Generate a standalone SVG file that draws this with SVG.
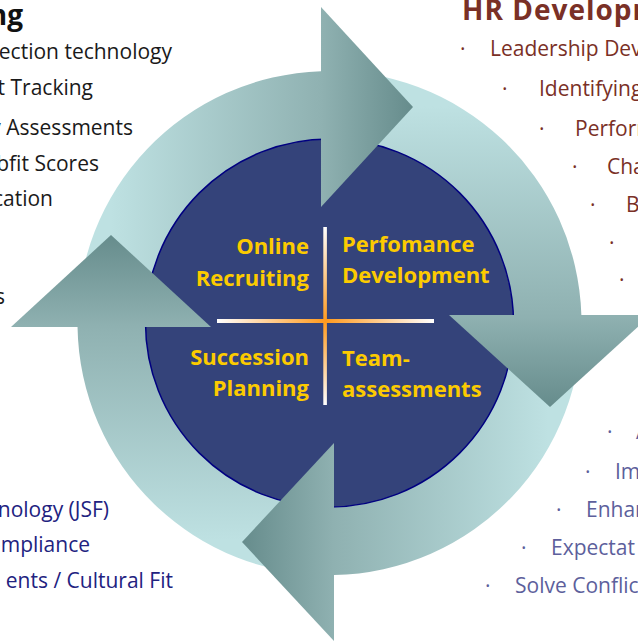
<svg xmlns="http://www.w3.org/2000/svg" width="638" height="641" viewBox="0 0 638 641">
  <style>
    .quad { font-family: "Open Sans", "Liberation Sans", sans-serif; font-weight: bold; font-size: 22px; fill: #fccb00; }
    .end { text-anchor: end; }
    .lt { font-family: "Open Sans", "Liberation Sans", sans-serif; font-size: 21px; fill: #1a1a1a; text-anchor: end; }
    .ln { font-family: "Open Sans", "Liberation Sans", sans-serif; font-size: 21px; fill: #22227f; text-anchor: end; }
    .rb { font-family: "Open Sans", "Liberation Sans", sans-serif; font-size: 21px; fill: #7a3026; }
    .rs { font-family: "Open Sans", "Liberation Sans", sans-serif; font-size: 21px; fill: #5d5f9c; }
    .hd { font-family: "Open Sans", "Liberation Sans", sans-serif; font-weight: bold; font-size: 28px; }
  </style>
  <defs>
    <linearGradient id="gTop" gradientUnits="userSpaceOnUse" x1="111" y1="0" x2="413" y2="0">
      <stop offset="0" stop-color="#bee1e2"/>
      <stop offset="0.7" stop-color="#8fb1b1"/>
      <stop offset="1" stop-color="#668c8c"/>
    </linearGradient>
    <linearGradient id="gRight" gradientUnits="userSpaceOnUse" x1="0" y1="106" x2="0" y2="407">
      <stop offset="0" stop-color="#bee1e2"/>
      <stop offset="0.7" stop-color="#8fb1b1"/>
      <stop offset="1" stop-color="#668c8c"/>
    </linearGradient>
    <linearGradient id="gBottom" gradientUnits="userSpaceOnUse" x1="548" y1="0" x2="242" y2="0">
      <stop offset="0" stop-color="#bee1e2"/>
      <stop offset="0.7" stop-color="#8fb1b1"/>
      <stop offset="1" stop-color="#668c8c"/>
    </linearGradient>
    <linearGradient id="gLeft" gradientUnits="userSpaceOnUse" x1="0" y1="540" x2="0" y2="235">
      <stop offset="0" stop-color="#bee1e2"/>
      <stop offset="0.7" stop-color="#8fb1b1"/>
      <stop offset="1" stop-color="#668c8c"/>
    </linearGradient>
    <linearGradient id="gVert" gradientUnits="userSpaceOnUse" x1="0" y1="227" x2="0" y2="405">
      <stop offset="0" stop-color="#ffffff"/>
      <stop offset="0.53" stop-color="#ff9a1e"/>
      <stop offset="1" stop-color="#ffffff"/>
    </linearGradient>
    <linearGradient id="gHorz" gradientUnits="userSpaceOnUse" x1="217" y1="0" x2="434" y2="0">
      <stop offset="0" stop-color="#ffffff"/>
      <stop offset="0.5" stop-color="#ff9a1e"/>
      <stop offset="1" stop-color="#ffffff"/>
    </linearGradient>
  </defs>

  <g id="connectors">
    <path id="body-top" fill="url(#gTop)" d="M 77.53,327 A 252 252 0 0 1 321,71.14 L 321,139.2 A 184 184 0 0 0 145.54,327 Z"/>
    <path id="body-right" fill="url(#gRight)" d="M 321,71.14 A 252 252 0 0 1 581.37,315 L 513.33,315 A 184 184 0 0 0 321,139.2 Z"/>
    <path id="body-bottom" fill="url(#gBottom)" d="M 581.37,315 A 252 252 0 0 1 334,574.96 L 334,506.94 A 184 184 0 0 0 513.33,315 Z"/>
    <path id="body-left" fill="url(#gLeft)" d="M 334,574.96 A 252 252 0 0 1 77.53,327 L 145.54,327 A 184 184 0 0 0 334,506.94 Z"/>
  </g>

  <g id="hub">
    <circle cx="329.5" cy="323" r="184" fill="#34437a" stroke="#000080" stroke-width="1.5"/>
  </g>

  <g id="arrowheads">
    <polygon fill="url(#gTop)" points="321,7 413,107 321,207"/>
    <polygon fill="url(#gRight)" points="449,315 651,315 550,407"/>
    <polygon fill="url(#gBottom)" points="334,443 242,542 334,641"/>
    <polygon fill="url(#gLeft)" points="11,327 211,327 111,235"/>
  </g>

  <g id="cross">
    <rect x="323.3" y="227" width="3.6" height="178" fill="url(#gVert)"/>
    <rect x="217" y="319" width="217" height="4" fill="url(#gHorz)"/>
  </g>

  <g id="online-recruiting">
    <text class="quad end" x="309" y="254">Online</text>
    <text class="quad end" x="309" y="286">Recruiting</text>
  </g>
  <g id="performance-development">
    <text class="quad" x="342" y="252">Perfomance</text>
    <text class="quad" x="342" y="283">Development</text>
  </g>
  <g id="succession-planning">
    <text class="quad end" x="309" y="365">Succession</text>
    <text class="quad end" x="309" y="396">Planning</text>
  </g>
  <g id="team-assessments">
    <text class="quad" x="342" y="366">Team-</text>
    <text class="quad" x="342" y="397">assessments</text>
  </g>

  <g id="left-list">
    <text class="hd" x="23" y="25" text-anchor="end" fill="#111111">ng</text>
    <text class="lt" x="172" y="59">ection technology</text>
    <text class="lt" x="93" y="95">t Tracking</text>
    <text class="lt" x="133" y="135">y Assessments</text>
    <text class="lt" x="99" y="171">bfit Scores</text>
    <text class="lt" x="53" y="206">cation</text>
    <text class="lt" x="5" y="304">s</text>
    <text class="ln" x="109" y="517">nology (JSF)</text>
    <text class="ln" x="90" y="552">ompliance</text>
    <text class="ln" x="173" y="588">ents / Cultural Fit</text>
  </g>

  <g id="right-list">
    <text class="hd" x="462" y="20" fill="#7a3026" letter-spacing="1">HR Developm</text>
    <text class="rb" x="460" y="56">·</text>
    <text class="rb" x="490" y="56">Leadership Dev</text>
    <text class="rb" x="502" y="96">·</text>
    <text class="rb" x="539" y="96">Identifying</text>
    <text class="rb" x="539" y="136">·</text>
    <text class="rb" x="575" y="136">Perform</text>
    <text class="rb" x="572" y="174">·</text>
    <text class="rb" x="607" y="174">Cha</text>
    <text class="rb" x="590" y="212">·</text>
    <text class="rb" x="626" y="212">B</text>
    <text class="rb" x="609" y="250">·</text>
    <text class="rb" x="619" y="287">·</text>
    <text class="rs" x="607" y="439">·</text>
    <text class="rs" x="636" y="439">A</text>
    <text class="rs" x="585" y="479">·</text>
    <text class="rs" x="615" y="479">Im</text>
    <text class="rs" x="556" y="517">·</text>
    <text class="rs" x="586" y="517">Enhan</text>
    <text class="rs" x="521" y="555">·</text>
    <text class="rs" x="551" y="555">Expectat</text>
    <text class="rs" x="485" y="593">·</text>
    <text class="rs" x="515" y="593">Solve Conflic</text>
  </g>
</svg>
